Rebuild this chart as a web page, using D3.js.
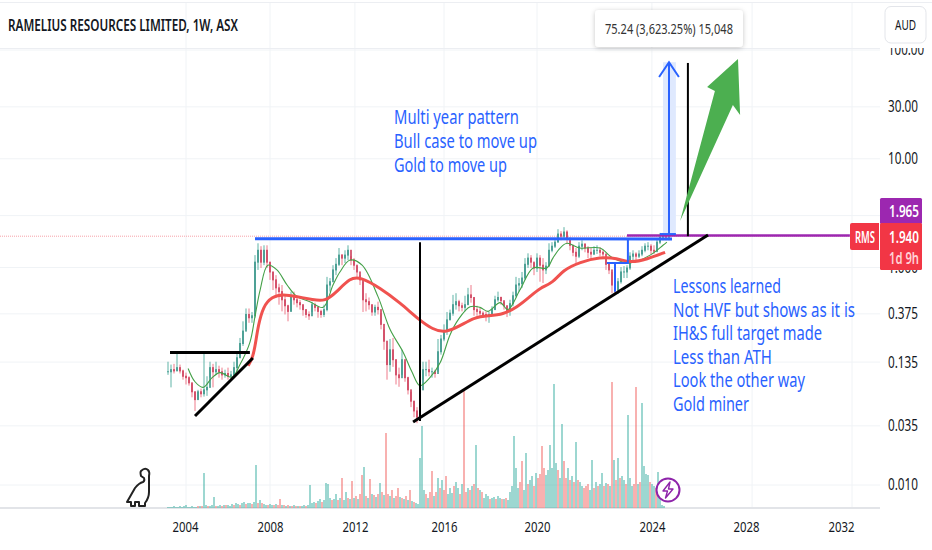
<!DOCTYPE html>
<html><head><meta charset="utf-8">
<script src="https://cdn.jsdelivr.net/npm/d3@7"></script>
<style>html,body{margin:0;padding:0;background:#fff;overflow:hidden}svg{display:block}
text{font-family:"Noto Sans","DejaVu Sans",sans-serif}</style>
</head><body><svg id="c" width="932" height="550"></svg>
<script>
const title = "RAMELIUS RESOURCES LIMITED, 1W, ASX";
const yearLabels = ["2004","2008","2012","2016","2020","2024","2028","2032"];
const yearBars = [5.7,34,62.3,92,123,161.3,192.7,224.3];
const gridBars = [6,34,62.3,92,123,161.3,194.7,228];
const priceTicks = [100,30,10,3,1,0.375,0.135,0.035,0.01];
const priceTickLabels = ["100.00","30.00","10.00","3.00","1.000","0.375","0.135","0.035","0.010"];
const priceHigh = [.136,.128,.13,.164,.128,.115,.108,.10,.086,.072,
.075,.077,.164,.10,.136,.13,.136,.125,.12,.115,
.12,.112,.136,.164,.225,.32,.42,.42,.39,1.30,
1.67,1.57,1.60,1.60,1.12,.91,.85,.71,.69,.56,
.455,.60,.60,.54,.505,.455,.41,.395,.485,.475,
.44,.41,.455,.82,.80,1.05,1.22,1.51,1.33,1.44,
1.60,1.27,1.22,1.03,.85,.74,.58,.53,.455,.455,
.485,.38,.27,.175,.22,.225,.142,.12,.175,.136,
.099,.072,.059,.052,.084,.136,.136,.142,.12,.115,
.22,.24,.30,.39,.41,.56,.58,.505,.475,.55,
.65,.69,.53,.445,.43,.395,.395,.39,.44,.55,
.60,.54,.485,.445,.505,.60,.82,.80,.91,1.22,
1.35,1.30,1.10,1.35,1.30,1.22,1.12,1.67,1.71,1.86,
2.25,2.16,2.35,2.20,1.78,1.57,1.51,1.71,1.78,1.67,
1.57,1.51,1.57,1.60,1.54,1.44,1.22,1.12,.91,.84,
.80,1.01,1.03,1.05,1.38,1.44,1.38,1.44,1.57,1.67,
1.71,1.64,1.60,1.86,2.08,2.08,2.03,1.98];
const priceLow = [.103,.079,.106,.112,.106,.093,.084,.082,.064,.048,
.061,.064,.065,.066,.097,.079,.103,.097,.093,.097,
.093,.091,.10,.11,.148,.19,.27,.31,.31,.345,
.95,.99,1.05,.99,.77,.62,.53,.455,.395,.37,
.32,.395,.455,.43,.41,.36,.345,.33,.39,.395,
.345,.345,.35,.395,.60,.77,.85,1.03,1.05,1.10,
1.17,1.05,.95,.82,.69,.39,.395,.41,.36,.36,
.37,.27,.175,.093,.11,.122,.084,.08,.103,.089,
.068,.052,.042,.037,.0405,.093,.10,.10,.097,.097,
.11,.158,.21,.24,.33,.36,.41,.395,.395,.395,
.455,.475,.36,.36,.345,.345,.32,.31,.36,.41,
.485,.455,.41,.35,.36,.44,.53,.60,.65,.77,
.99,.99,.85,.91,.74,.72,.87,1.05,1.38,1.51,
1.71,1.78,1.86,1.64,1.44,1.27,1.10,1.22,1.44,1.38,
1.22,1.17,1.30,1.33,1.27,1.22,.95,.87,.58,.57,
.57,.71,.80,.80,.95,1.17,1.17,1.22,1.27,1.38,
1.44,1.33,1.33,1.38,1.64,1.78,1.78,1.78];
const priceClose = [.11,.115,.112,.12,.112,.10,.097,.087,.072,.061,
.072,.069,.075,.079,.12,.11,.115,.11,.103,.106,
.10,.103,.12,.148,.20,.26,.37,.345,.36,1.12,
1.44,1.12,1.44,1.12,.91,.77,.65,.60,.505,.445,
.395,.53,.505,.475,.455,.41,.37,.36,.455,.43,
.395,.37,.41,.69,.74,.95,1.07,1.30,1.22,1.30,
1.44,1.17,1.05,.91,.77,.505,.485,.455,.39,.43,
.41,.30,.21,.128,.175,.142,.103,.097,.142,.097,
.075,.059,.048,.042,.075,.115,.115,.11,.11,.106,
.168,.22,.26,.33,.38,.455,.485,.445,.43,.455,
.56,.53,.41,.395,.38,.37,.36,.37,.41,.505,
.53,.495,.445,.395,.465,.55,.69,.71,.80,1.07,
1.22,1.12,.99,1.22,1.05,.95,1.03,1.44,1.57,1.71,
2.03,1.94,2.12,1.86,1.60,1.38,1.27,1.57,1.64,1.51,
1.38,1.33,1.44,1.44,1.38,1.33,1.07,.95,.69,.62,
.74,.91,.91,.99,1.27,1.33,1.27,1.33,1.44,1.57,
1.57,1.44,1.41,1.71,1.90,1.94,1.90,1.94];
const fastMaBars = [6.7,9,11.7,14.7,17.3,21.3,24,27.3,29,30.7,33.3,36.3,39.7,43,47.3,51.7,55,57.3,60.7,64.7,70,74,78.3,81.3,84,87.3,90.7,94,96.7,100.7,104,106.7,110.7,113.3,117.3,121.7,126.3,128.3,130.7,133,137.3,144,148.3,154,160.7,165,166.3];
const fastMa = [.118,.089,.079,.097,.108,.098,.128,.205,.355,.62,1.05,.95,.69,.54,.485,.43,.69,.91,1.17,1.05,.54,.27,.168,.11,.082,.097,.133,.24,.33,.435,.43,.395,.475,.41,.62,.99,.99,1.22,1.51,1.67,1.51,1.51,1.22,1.10,1.30,1.60,1.71];
const slowMaBars = [26.7,28.3,29.3,30,31.7,34.7,38.3,43,48.3,52.3,56.3,60.7,64,70.7,77.3,84,88.3,92.3,97.3,102.3,106.7,111.7,116.3,120.7,124,128.3,131.7,137.3,144,149.7,154,159.7,165.7];
const slowMa = [.125,.148,.21,.285,.44,.54,.57,.54,.505,.485,.60,.80,.82,.65,.475,.325,.27,.25,.29,.35,.36,.37,.43,.54,.65,.72,.95,1.12,1.25,1.22,1.10,1.19,1.38];
// volume in estimated units: positive = up week, negative = down week
const volumes = [1,1,1,2,1,1,2,1,2,3,1,1,2,1,1,-2,
2,-2,35,3,-2,2,3,11,-2,2,3,-2,3,-3,3,2,4,-3,5,4,-3,5,6,-4,5,5,-4,6,43,-5,8,-5,4,3,-3,4,3,-3,4,-3,-9,3,-3,2,-3,2,-2,3,-2,2,-2,2,3,-2,3,23,
5,6,-5,7,9,-6,8,25,24,10,-8,9,14,-8,10,-30,8,16,-10,9,
-27,10,-12,9,-14,-33,41,-12,10,-29,14,-13,11,-14,25,-16,13,-75,-14,12,-18,10,-12,-20,11,-10,9,-12,8,-18,7,-6,5,4,
50,82,18,-14,10,-16,-37,12,-16,30,-20,28,-18,-32,14,20,15,-22,26,20,-14,24,-118,-16,20,-18,22,-24,63,-20,18,-16,10,14,12,-9,10,11,-9,12,10,-9,9,-10,8,
16,22,72,40,20,-26,-47,18,55,-24,28,32,-22,35,-30,-34,-62,-40,33,38,63,40,124,45,-38,30,84,-47,-30,40,-28,32,-26,66,-28,26,22,-20,-22,-24,18,48,-20,26,-22,24,35,-22,25,-24,22,-126,48,-28,50,-30,32,28,-24,93,30,22,-24,-121,24,-26,105,42,34,33,-26,24,22,-20,36,14,3,2];
const lastPrice = 1.94, prevLevel = 1.965, measurePct = "75.24 (3,623.25%) 15,048";
const resistance = [[29,1.84],[168,1.83]];
const purpleLevel = [[153,1.965],[227.3,1.965]];
const vLeft = [[84,1.71],[84,.0388]];
const vRight = [[173.3,76],[173.3,1.94]];
const neckline = [[.67,.165],[27.3,.165]];
const trendSmall = [[9,.0431],[28.3,.147]];
const trendLarge = [[81.7,.038],[180,1.99]];
const headPath = [[146.3,1.10],[153.3,1.10],[153.3,1.83]];
const headDrop = [[149,1.10],[149,.60]];
const measureShade = [165,169.3,1.94,77.2];
const measureBase = [[164,2.03],[169.3,2.03]];
const measureStem = [[167,2.03],[167,77.2]];
const measureHead = [[163.7,56.4],[167,77.2],[170.3,56.4]];
const greenArrow = [[170.7,2.68],[182.3,42],[179.7,45.7],[190,82.7],[190.7,25.3],[188.3,31.2]];
const notesA = ["Multi year pattern","Bull case to move up","Gold to move up"];
const notesB = ["Lessons learned","Not HVF but shows as it is","IH&S full target made","Less than ATH","Look the other way","Gold miner"];

// ---- SCALES
const x = d3.scaleLinear().domain([0,167]).range([168,669]);
const y = d3.scaleLog().domain([100,0.01]).range([50,485]);
const vy = d3.scaleLinear().domain([0,126]).range([508,382]);
const volStep = 2/3;
const svg = d3.select("#c");
const line = d3.line().x(d=>x(d[0])).y(d=>y(d[1]));
const W=880, UP="#26a69a", DOWN="#ef5350";

svg.append("defs").append("filter").attr("id","sh").attr("x","-10%").attr("y","-20%").attr("width","120%").attr("height","150%")
  .append("feDropShadow").attr("dx",0).attr("dy",1).attr("stdDeviation",2.5).attr("flood-color","#000").attr("flood-opacity",.22);

// grid
const g = svg.append("g").attr("stroke","#f0f3f6").attr("stroke-width",1);
g.selectAll(".h").data(priceTicks).join("line").attr("x1",0).attr("x2",W).attr("y1",d=>y(d)).attr("y2",d=>y(d));
g.selectAll(".v").data(gridBars).join("line").attr("x1",d=>x(d)).attr("x2",d=>x(d)).attr("y1",3).attr("y2",508);
svg.append("line").attr("x1",0).attr("x2",932).attr("y1",2.5).attr("y2",2.5).attr("stroke","#eceef2");
svg.append("line").attr("x1",0).attr("x2",W).attr("y1",48.5).attr("y2",48.5).attr("stroke","#eceef2");
svg.append("line").attr("x1",0).attr("x2",W).attr("y1",508).attr("y2",508).attr("stroke","#e2e4e8").attr("stroke-width",2);

// volume
svg.append("g").selectAll("rect").data(volumes).join("rect")
 .attr("x",(d,i)=>x(i*volStep)-1).attr("width",2)
 .attr("y",d=>vy(Math.abs(d))).attr("height",d=>vy(0)-vy(Math.abs(d)))
 .attr("fill",d=>d>0?UP:DOWN).attr("opacity",.45);

// last price dotted
svg.append("line").attr("x1",0).attr("x2",W).attr("y1",y(lastPrice)).attr("y2",y(lastPrice))
 .attr("stroke","#f7a1a9").attr("stroke-dasharray","1 1");

// candles
const dir = i=> i===0 || priceClose[i]>=priceClose[i-1];
const c = svg.append("g");
c.selectAll("line").data(priceHigh).join("line")
 .attr("x1",(d,i)=>x(i)).attr("x2",(d,i)=>x(i)).attr("y1",d=>y(d)).attr("y2",(d,i)=>y(priceLow[i]))
 .attr("stroke",(d,i)=>dir(i)?"#5fb3a6":"#ee7a8a").attr("stroke-width",1);
c.selectAll("rect").data(priceClose).join("rect")
 .attr("x",(d,i)=>x(i)-.75).attr("width",1.5)
 .attr("y",(d,i)=>Math.min(y(d),y(i?priceClose[i-1]:d))-.5)
 .attr("height",(d,i)=>Math.abs(y(d)-y(i?priceClose[i-1]:d))+1)
 .attr("fill",(d,i)=>dir(i)?"#2f8f83":"#c9304f");

// moving averages
svg.append("path").attr("d",d3.line().x(d=>x(d[0])).y(d=>y(d[1])).curve(d3.curveCatmullRom)(fastMaBars.map((b,i)=>[b,fastMa[i]]))).attr("fill","none").attr("stroke","#43a047").attr("stroke-width",1.1);
svg.append("path").attr("d",d3.line().x(d=>x(d[0])).y(d=>y(d[1])).curve(d3.curveBasis)(slowMaBars.map((b,i)=>[b,slowMa[i]]))).attr("fill","none").attr("stroke","#f0524f").attr("stroke-width",3);

// drawings
const draw=(pts,col,w)=>svg.append("path").attr("d",line(pts)).attr("fill","none").attr("stroke",col).attr("stroke-width",w);
svg.append("rect").attr("x",x(measureShade[0])).attr("width",x(measureShade[1])-x(measureShade[0]))
 .attr("y",y(measureShade[3])).attr("height",y(measureShade[2])-y(measureShade[3])).attr("fill","#dfe9fe");
draw(resistance,"#2962ff",3);
draw(purpleLevel,"#9c27b0",2.5);
draw(vLeft,"#000",2); draw(vRight,"#000",2);
draw(neckline,"#000",3); draw(trendSmall,"#000",3); draw(trendLarge,"#000",3);
draw(headPath,"#2962ff",2); draw(headDrop,"#2962ff",2);
draw(measureBase,"#2962ff",2); draw(measureStem,"#2962ff",2); draw(measureHead,"#2962ff",2);
svg.append("path").attr("d",line(greenArrow)+"Z").attr("fill","#4caf50");

// title
svg.append("text").text(title).attr("x",8).attr("y",31).attr("font-size",16).attr("font-weight",600).attr("fill","#131722")
 .attr("textLength",230).attr("lengthAdjust","spacingAndGlyphs");

// notes
const noteWidthsA=[125,143,113], noteWidthsB=[108,182,149,99,132,76];
svg.append("g").selectAll("text").data(notesA).join("text").text(d=>d).attr("x",394).attr("y",(d,i)=>124+i*24)
 .attr("font-size",20).attr("fill","#2962ff").attr("textLength",(d,i)=>noteWidthsA[i]).attr("lengthAdjust","spacingAndGlyphs");
svg.append("g").selectAll("text").data(notesB).join("text").text(d=>d).attr("x",673).attr("y",(d,i)=>293+i*23.6)
 .attr("font-size",20).attr("fill","#2962ff").attr("textLength",(d,i)=>noteWidthsB[i]).attr("lengthAdjust","spacingAndGlyphs");

// measure tooltip
svg.append("rect").attr("x",595).attr("y",10).attr("width",148).attr("height",37).attr("rx",4).attr("fill","#fff").attr("filter","url(#sh)");
svg.append("text").text(measurePct).attr("x",605).attr("y",34).attr("font-size",14.5).attr("fill","#333")
 .attr("textLength",128).attr("lengthAdjust","spacingAndGlyphs");

// axes
const ax = svg.append("g").attr("transform","translate(0,508)")
 .call(d3.axisBottom(x).tickValues(yearBars).tickFormat((d,i)=>yearLabels[i]).tickSize(0).tickPadding(13));
ax.select(".domain").remove();
ax.selectAll("text").attr("font-size",15).attr("fill","#131722").attr("font-family","Noto Sans")
 .attr("textLength",26).attr("lengthAdjust","spacingAndGlyphs");
const ay = svg.append("g").attr("transform","translate(881,0)")
 .call(d3.axisRight(y).tickValues(priceTicks).tickFormat((d,i)=>priceTickLabels[i]).tickSize(0).tickPadding(7));
ay.select(".domain").remove();
ay.selectAll("text").attr("font-size",15.5).attr("fill","#131722").attr("font-family","Noto Sans")
 .attr("textLength",(d,i)=>priceTickLabels[i].length*6).attr("lengthAdjust","spacingAndGlyphs");
// header covers the top of the first label, as in the reference
svg.append("rect").attr("x",881).attr("y",3).attr("width",51).attr("height",45).attr("fill","#fff");

// AUD
svg.append("rect").attr("x",885).attr("y",6.5).attr("width",41).attr("height",36.5).attr("rx",6).attr("fill","#fff").attr("stroke","#e3e5ea");
svg.append("text").text("AUD").attr("x",895).attr("y",30).attr("font-size",14.5).attr("fill","#131722")
 .attr("textLength",21).attr("lengthAdjust","spacingAndGlyphs");

// price tags
svg.append("path").attr("d","M852 223H879V250H852Q850 250 850 248V225Q850 223 852 223Z").attr("fill","#f23645");
svg.append("rect").attr("x",880).attr("y",198).attr("width",42).attr("height",26).attr("rx",1.5).attr("fill","#9c27b0");
svg.append("rect").attr("x",880).attr("y",223).attr("width",42).attr("height",47).attr("rx",1.5).attr("fill","#f23645");
const tag=(t,tx,ty,col,w)=>svg.append("text").text(t).attr("x",tx).attr("y",ty).attr("font-size",15.5).attr("font-weight",600).attr("fill",col)
 .attr("textLength",w).attr("lengthAdjust","spacingAndGlyphs");
tag(prevLevel.toFixed(3),889,217,"#fff",30);
tag(lastPrice.toFixed(3),889,243,"#fff",30);
tag("1d 9h",889,264,"#ffd3d6",30);
tag("RMS",855,243,"#fff",20);

// dino mark
svg.append("path").attr("d","M127 502L135 488Q139 483 143 482Q145 481 144 478L141 476Q140 472 141 471Q145 467 148 470Q150 472 149 476V492Q149 498 145 503V506H139V502H135V506H131V502Z")
 .attr("fill","#fff").attr("stroke","#222").attr("stroke-width",2).attr("stroke-linejoin","round");

// lightning badge
svg.append("circle").attr("cx",668).attr("cy",490).attr("r",11.5).attr("fill","#fff").attr("stroke","#8e24aa").attr("stroke-width",2);
svg.append("path").attr("d","M670 482L663 491H667.5L665.5 498L673 489H668.5Z").attr("fill","none").attr("stroke","#8e24aa").attr("stroke-width",1.4).attr("stroke-linejoin","round");
</script></body></html>
